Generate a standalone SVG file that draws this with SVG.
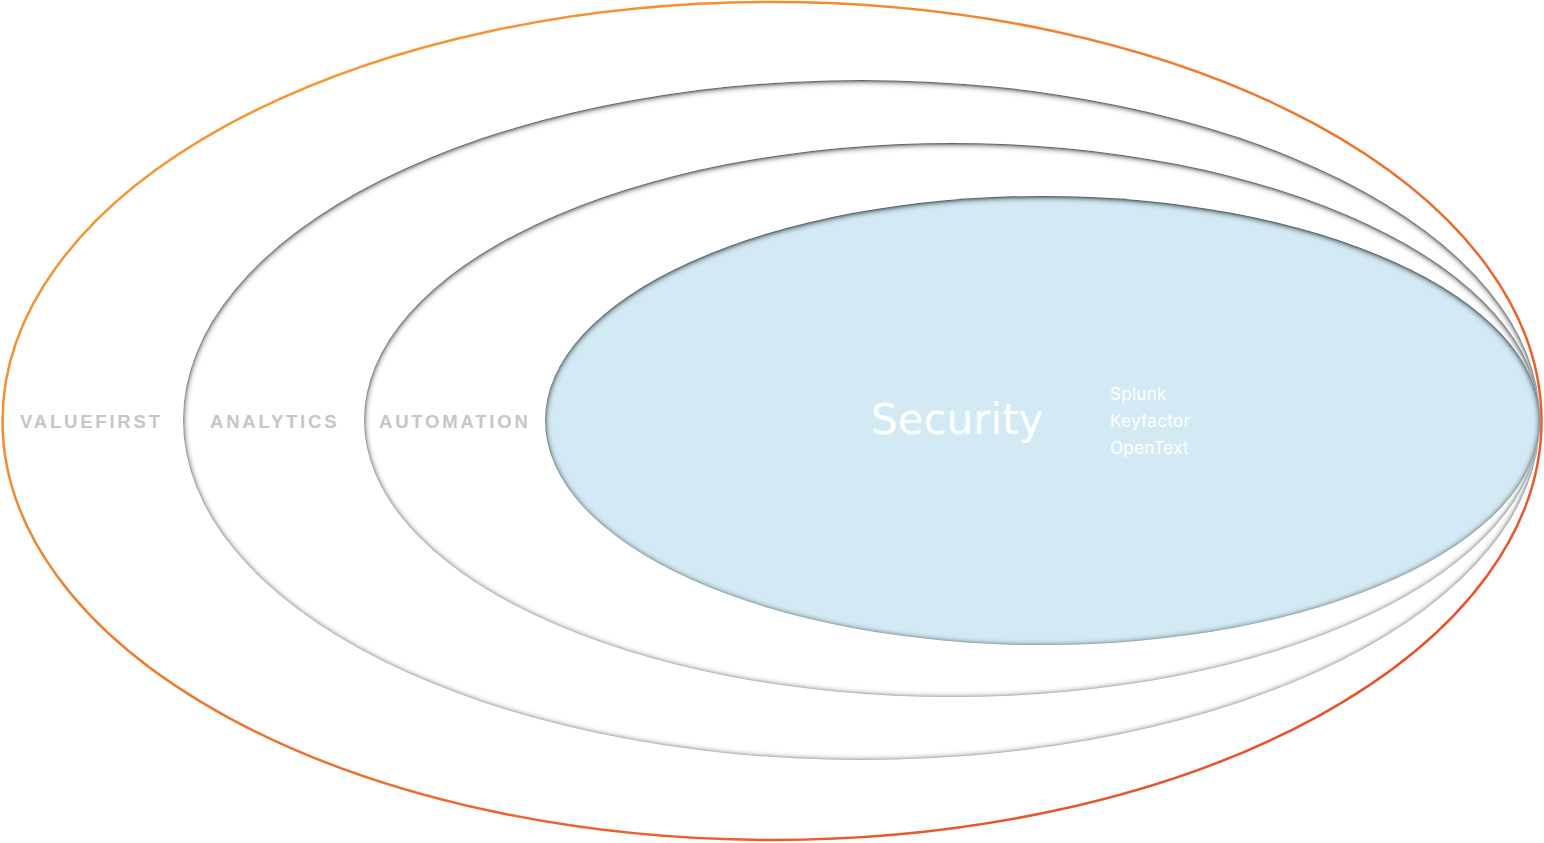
<svg xmlns="http://www.w3.org/2000/svg" width="1544" height="843" viewBox="0 0 1544 843">
  <defs>
    <linearGradient id="outerGrad" x1="0" y1="0" x2="1" y2="1">
      <stop offset="0" stop-color="#F7A535"/>
      <stop offset="0.45" stop-color="#F07A30"/>
      <stop offset="1" stop-color="#E6432A"/>
    </linearGradient>
    <filter id="inset" x="-5%" y="-5%" width="110%" height="110%">
      <feFlood flood-color="#4a5458" result="c"/>
      <feComposite in="c" in2="SourceAlpha" operator="out" result="inv"/>
      <feGaussianBlur in="inv" stdDeviation="3.2" result="b"/>
      <feOffset in="b" dy="1.2" result="o"/>
      <feComponentTransfer in="o" result="oa">
        <feFuncA type="linear" slope="1.7"/>
      </feComponentTransfer>
      <feComposite in="oa" in2="SourceAlpha" operator="in" result="shadow"/>
      <feMerge>
        <feMergeNode in="SourceGraphic"/>
        <feMergeNode in="shadow"/>
      </feMerge>
    </filter>
    <style>
      .ring { fill: #ffffff; filter: url(#inset); }
      .label { font-family: "Liberation Sans", Arial, sans-serif; font-weight: bold; font-size: 18.5px; letter-spacing: 2.8px; fill: #c6c6c6; }
      .title { font-family: "DejaVu Sans", sans-serif; font-size: 42px; fill: #ffffff; }
      .item { font-family: Inter, "Noto Sans", sans-serif; font-size: 17px; fill: #ffffff; letter-spacing: 0.3px; }
    </style>
  </defs>
  <rect width="1544" height="843" fill="#ffffff"/>
  <g id="valuefirst">
    <ellipse cx="772" cy="421" rx="769.5" ry="419" fill="none" stroke="url(#outerGrad)" stroke-width="2.5"/>
    <text class="label" x="20" y="428">VALUEFIRST</text>
  </g>
  <g id="analytics">
    <ellipse class="ring" cx="861.5" cy="420" rx="678.5" ry="340"/>
    <text class="label" x="210" y="428">ANALYTICS</text>
  </g>
  <g id="automation">
    <ellipse class="ring" cx="952" cy="420" rx="588" ry="277"/>
    <text class="label" x="379" y="428">AUTOMATION</text>
  </g>
  <g id="security">
    <ellipse class="ring" cx="1042.5" cy="420.5" rx="497.5" ry="224.5" style="fill:#D3EAF5"/>
    <text class="title" x="871" y="434">Security</text>
    <text class="item" x="1110" y="400">Splunk</text>
    <text class="item" x="1110" y="427">Keyfactor</text>
    <text class="item" x="1110" y="454">OpenText</text>
  </g>
  <g id="connectors"></g>
</svg>
